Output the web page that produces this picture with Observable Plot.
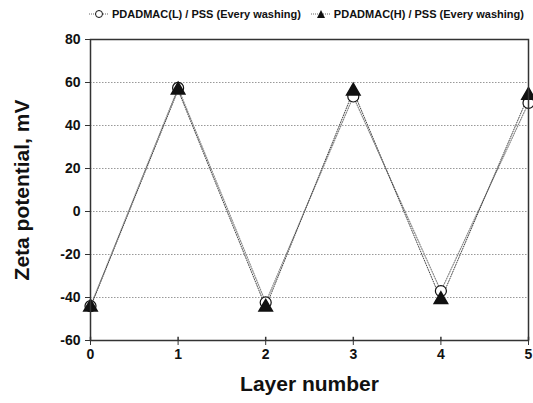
<!DOCTYPE html>
<html>
<head>
<meta charset="utf-8">
<script src="https://cdn.jsdelivr.net/npm/d3@7"></script>
<script src="https://cdn.jsdelivr.net/npm/@observablehq/plot@0.6"></script>
<style>
  body { margin: 0; background: #fff; font-family: "Liberation Sans", Arial, sans-serif; }
  #legend { height: 28px; display: flex; align-items: center; font-weight: bold; font-size: 11px; padding-left: 89px; color: #111; }
  #legend .item { display: flex; align-items: center; margin-right: 10px; white-space: nowrap; }
  #legend svg { margin-right: 3px; }
</style>
</head>
<body>
<div id="legend"></div>
<div id="chart"></div>
<script>
const layers = [0, 1, 2, 3, 4, 5];
const seriesL = [-44, 57.5, -42.3, 53.5, -37, 50.5];
const seriesH = [-44.5, 56.5, -44.5, 56, -41, 54];
const seriesNames = ["PDADMAC(L) / PSS (Every washing)", "PDADMAC(H) / PSS (Every washing)"];
const yTicks = [-60, -40, -20, 0, 20, 40, 60, 80];
const gridTicks = [-40, -20, 0, 20, 40, 60];

const dataL = layers.map((x, i) => ({x, y: seriesL[i]}));
const dataH = layers.map((x, i) => ({x, y: seriesH[i]}));

// Legend
const legend = document.getElementById("legend");
seriesNames.forEach((name, i) => {
  const item = document.createElement("span");
  item.className = "item";
  const sym = i === 0
    ? '<circle cx="10" cy="6" r="3.5" fill="white" stroke="#111" stroke-width="1"/>'
    : '<path d="M10,2 L14,10 L6,10 Z" fill="#111"/>';
  item.innerHTML = `<svg width="20" height="12"><line x1="0" x2="20" y1="6" y2="6" stroke="#666" stroke-dasharray="1,1"/>${sym}</svg>${name}`;
  legend.appendChild(item);
});

const fmt = d => String(d);

const chart = Plot.plot({
  width: 533,
  height: 375,
  marginTop: 11,
  marginBottom: 63,
  marginLeft: 90,
  marginRight: 5,
  style: { fontFamily: "'Liberation Sans', Arial, sans-serif", fontWeight: "bold", fontSize: "14px", color: "#111", background: "white", overflow: "visible" },
  x: { domain: [0, 5], label: null },
  y: { domain: [-60, 80], label: null },
  marks: [
    Plot.ruleY(gridTicks, { stroke: "#999", strokeDasharray: "1.5,1.5", strokeWidth: 1 }),
    Plot.line(dataL, { x: "x", y: "y", stroke: "#888", strokeWidth: 1.2, strokeDasharray: "1,1.5" }),
    Plot.line(dataH, { x: "x", y: "y", stroke: "#444", strokeWidth: 1, strokeDasharray: "1,1.5" }),
    Plot.dot(dataL, { x: "x", y: "y", r: 5.5, symbol: "circle", fill: "white", stroke: "#111", strokeWidth: 1.2 }),
    Plot.dot(dataH, { x: "x", y: "y", r: 5, symbol: "triangle", fill: "#111", stroke: "#111" }),
    Plot.frame({ stroke: "#333", strokeWidth: 1.5 }),
    Plot.ruleX(layers, { x: d => d, y1: -60, y2: -58.5, stroke: "#333", strokeWidth: 1.5 }),
    Plot.axisX({ ticks: layers, tickFormat: fmt, tickSize: 5, tickPadding: 4, fontSize: 14, fontWeight: "bold", stroke: "#333",
                 label: "Layer number", labelAnchor: "center", labelArrow: "none", labelOffset: 50 }),
    Plot.axisY({ ticks: yTicks, tickFormat: fmt, tickSize: 5, tickPadding: 5, fontSize: 14, fontWeight: "bold", stroke: "#333",
                 label: "Zeta potential, mV", labelAnchor: "center", labelArrow: "none", labelOffset: 76 })
  ]
});
document.getElementById("chart").appendChild(chart);
// enlarge axis titles
chart.querySelectorAll("g[aria-label='x-axis label'] text, g[aria-label='y-axis label'] text").forEach(t => {
  t.style.fontSize = "21px";
  t.style.fontWeight = "bold";
});
</script>
</body>
</html>
